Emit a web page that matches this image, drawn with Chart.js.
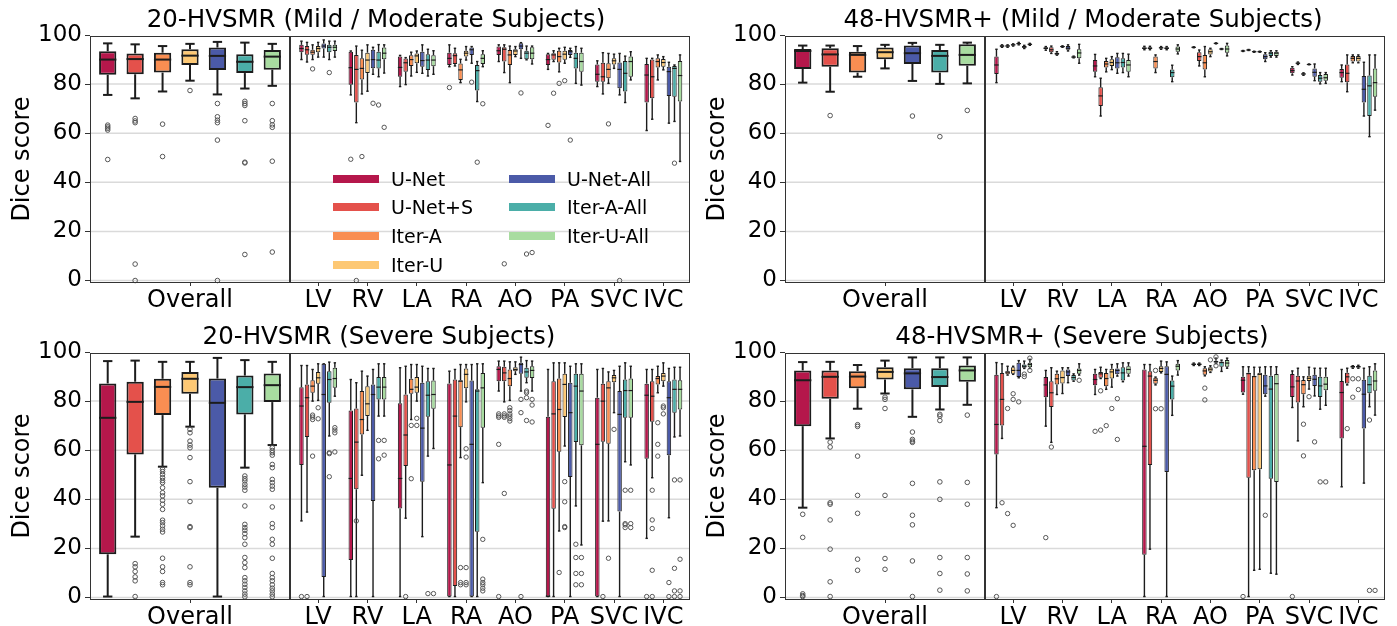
<!DOCTYPE html>
<html><head><meta charset="utf-8">
<script src="https://cdn.jsdelivr.net/npm/chart.js@4.4.1/dist/chart.umd.min.js"></script>
<style>
html,body{margin:0;padding:0;background:#fff;}
#wrap{position:relative;width:1397px;height:626px;overflow:hidden;font-family:'DejaVu Sans',sans-serif;}
canvas{position:absolute;}
.title{position:absolute;width:700px;text-align:center;font-size:24.5px;line-height:28px;color:#000;white-space:nowrap;}
.lg{position:absolute;font-size:19px;line-height:24px;color:#000;white-space:nowrap;}
.sw{position:absolute;height:8px;width:46px;}
</style></head><body><div id="wrap"></div>
<script>
// ---------- labels ----------
const categories = ['Overall','LV','RV','LA','RA','AO','PA','SVC','IVC'];
const seriesNames = ['U-Net','U-Net+S','Iter-A','Iter-U','U-Net-All','Iter-A-All','Iter-U-All'];
const seriesColors = ['#b5174b','#e4514b','#f98e52','#fdc874','#4b5aa8','#4baea8','#a8dca0'];
const yTicks = [0,20,40,60,80,100];
const panelTitles = ['20-HVSMR (Mild / Moderate Subjects)','48-HVSMR+ (Mild / Moderate Subjects)',
                     '20-HVSMR (Severe Subjects)','48-HVSMR+ (Severe Subjects)'];

// ---------- data: [lower whisker, Q1, median, Q3, upper whisker] per category ----------
// Panel A: 20-HVSMR mild / moderate
const mild20_UNet     = [[75.6,83.8,90.0,93.4,96.6],[90,93,94.5,96,97.5],[75.6,79.7,86.7,93.2,93.5],[79,83,86.8,91.2,91.7],[87.1,87.8,90.5,92.8,96],[89.2,91.9,93.6,95.3,96],[86,87.8,90,92.2,92.5],[79,81,84,88,89.5],[61.1,72.5,83.7,88.2,90.5]];
const mild20_UNetS    = [[74.2,84,90.2,92.5,96.2],[89,92,94,95.5,97],[64.3,72.5,86,91.9,95.5],[79.8,85,88.7,90.4,90.8],[87.4,88.2,91.6,92.6,94.6],[84.7,89.2,94.2,95,96],[89.2,89.9,91.9,92.6,93.6],[76,81,83,88.7,92.8],[65.7,74.2,83,90,90.5]];
const mild20_IterA    = [[77,84.7,90,92.8,95.5],[90,92,93,94,96],[76,81.9,86.4,90.5,93.8],[83.3,87.4,90,91.8,93],[80.6,81.7,85.8,88.4,90.1],[80.6,87.8,91.9,93.9,95.5],[85,88.8,91.2,93.6,94.6],[80.3,82.4,86,88.5,92.5],[81.7,86.8,89.2,90.5,91.9]];
const mild20_IterU    = [[81.4,87.8,91.6,94.2,96.4],[91,93,94.5,95.5,97],[77.1,84.5,89.8,92.8,96],[84.8,88.5,91.5,92.5,93.5],[89.8,91.2,92.6,93.6,95.3],[91.2,91.9,93.5,94.2,95.3],[88.5,89.9,92.2,93.6,95],[86.4,88,89.5,90.5,92.2],[85.8,87.1,88.8,90.2,91.2]];
const mild20_UNetAll  = [[75.8,85.8,91.5,94.9,97.2],[91,94.5,95.5,96.5,98],[84,86.5,90,94,95],[84.4,87.1,89.6,93.2,96],[88.5,91.9,94,94.9,95.3],[90.5,94.2,95.5,96.6,96.9],[90.9,91.9,93.2,93.9,94.6],[75.6,78.3,86,88.8,92.5],[64.1,75.2,85.1,87.1,88.9]];
const mild20_IterAAll = [[78.2,84.5,89.1,92.2,96.9],[90,93,95,96,97.5],[83,86.4,89.8,93.2,96.1],[83.3,85.8,89.8,92.2,94.2],[72.9,77.4,85.5,87.8,89.2],[89.9,90.1,92.6,93.6,95.5],[80.3,86.4,90.5,92.8,95.3],[72.5,77,84.4,89.4,91.4],[64.8,74.9,86.4,87.4,87.8]];
const mild20_IterUAll = [[79.3,85.9,91.2,93.9,96.4],[91,93.5,95,96,97.5],[84.5,90.1,92.6,94.9,96],[84,87.3,89.8,91.8,93.6],[87.1,88.2,90.5,92.2,93.6],[88.2,90.1,92.6,95,95.5],[79.6,85,89.2,92.8,94.6],[81.7,83,89.2,91.2,93.2],[48.5,72.9,83.5,89.4,91.9]];
const mild20_UNet_out     = [[63.3,62.6,62.0,61.3,49.3],[],[49.4],[],[78.6],[],[63.2],[],[]];
const mild20_UNetS_out    = [[66,65,64.3,6.7,0],[],[0],[],[],[6.8],[76.3],[],[]];
const mild20_IterA_out    = [[63.7,50.5],[86.2],[50.5],[],[],[],[80.3],[63.8],[]];
const mild20_IterU_out    = [[77.4],[],[],[],[],[],[81.4],[],[]];
const mild20_UNetAll_out  = [[72.1,66.7,65.3,64.3,57.2,0],[],[72.2],[],[80.8],[76.4],[57.2],[0],[]];
const mild20_IterAAll_out = [[73,72.1,71.3,65.1,48.2,47.9,10.6],[84.7],[71.5],[],[48.2],[10.8],[],[],[47.8]];
const mild20_IterUAll_out = [[72.1,65.1,63.4,62.4,48.6,11.6],[],[62.4],[],[72],[11.4],[],[],[]];

// Panel B: 48-HVSMR+ mild / moderate
const mild48_UNet     = [[80.6,86.2,93.5,94.3,95.7],[80.6,84.1,87.8,91.2,94.2],[93.8,94.2,94.6,95,95.3],[83,85,87.4,89.8,92.1],[94,94.3,94.6,95,95.4],[94.8,94.9,95,95.1,95.2],[93.3,93.4,93.5,93.6,93.7],[83.7,84.4,85.5,86.7,87.1],[81,82.6,84.7,86.2,87.8]];
const mild48_UNetS    = [[76.9,87.1,92.1,94.6,95.7],[95,95.2,95.5,95.8,96],[92.5,93,94,95,95.5],[67,71.1,75.2,78.7,82.4],[94,94.3,94.6,95,95.4],[87.4,89.4,91.2,93,93.9],[93.7,93.8,93.9,94,94.1],[88,88.3,88.5,88.8,89],[76.9,80.8,84.4,88,91.9]];
const mild48_IterA    = [[83,84.7,91.9,93.2,95.5],[95,95.3,95.5,95.8,96],[91.8,92,92.4,92.8,93.2],[85,86.8,88.2,89.4,90.5],[84.7,86.4,89.2,91.2,91.9],[83,86,88.7,91.9,95.3],[93,93.1,93.2,93.3,93.4],[83.6,83.9,84.1,84.4,84.6],[88.7,89.2,90.5,91.5,91.9]];
const mild48_IterU    = [[86.4,90.1,93,94.9,96],[95.5,95.7,96,96.2,96.4],[95,95.1,95.3,95.5,95.6],[85.9,87.4,88.8,90.1,91.2],[94.2,94.5,94.8,95,95.3],[91.2,92.1,93.2,94.2,94.6],[93,93.1,93.2,93.3,93.4],[87.9,88,88,88.1,88.2],[88.7,89.2,90.5,91.5,91.9]];
const mild48_UNetAll  = [[81.3,88.2,92.6,95.7,96.8],[96,96.2,96.5,96.7,97],[93.5,94,94.6,95.5,96],[84.4,86.4,88.7,90.9,92.5],[94,94.3,94.6,95,95.3],[96.4,96.5,96.6,96.7,96.8],[89.2,90.1,91.2,92.2,92.8],[81.4,83,84.8,86.4,88.2],[67,72.5,77.9,83.3,88.9]];
const mild48_IterAAll = [[80.1,84.7,91.5,93.9,96],[94.5,94.8,95.1,95.5,95.8],[90.7,90.9,91,91.2,91.4],[84.7,86.8,88.8,90.5,92.5],[81,82.8,84.7,86,87.7],[94.1,94.2,94.3,94.4,94.5],[91,91.5,92.6,93.2,93.6],[80.1,81,82.4,83.7,84.7],[58.6,67,79.3,83.5,91.9]];
const mild48_IterUAll = [[80.3,87.5,91.9,96.2,96.9],[95.8,96,96.2,96.4,96.6],[88.5,90.5,92.7,94.2,96.2],[83,85,87.8,89.8,92.2],[92.3,93.2,94.3,95.3,96],[91.5,92.8,94.3,95.7,96.6],[91,91.5,92.6,93.2,93.6],[80.3,81.4,82.6,84.1,84.7],[69.4,74.9,80.6,86.4,91.9]];
const mild48_UNet_out     = [[],[],[],[],[],[],[],[],[]];
const mild48_UNetS_out    = [[67.2],[],[],[],[],[],[],[],[]];
const mild48_IterA_out    = [[],[],[],[],[],[],[],[],[]];
const mild48_IterU_out    = [[],[],[],[],[],[],[],[],[]];
const mild48_UNetAll_out  = [[67],[],[],[],[],[],[],[],[]];
const mild48_IterAAll_out = [[58.6],[],[],[],[],[],[],[],[]];
const mild48_IterUAll_out = [[69.3],[],[],[],[],[],[],[],[]];

// Panel C: 20-HVSMR severe
const sev20_UNet     = [[0.4,17.6,73.2,87.2,96.3],[31.2,54,78,85.7,94.5],[0.4,15.3,48.5,76.2,88.8],[0.4,36.3,48.5,79.1,93.6],[0.4,0.4,54,87.2,92.2],[84.1,88.1,92.9,94.2,96.3],[0.4,0.4,0.5,73.6,92.9],[0.4,0.4,62.4,81.4,92.9],[24.1,56.5,82.4,87.1,92.9]];
const sev20_UNetS    = [[24.8,58.3,79.7,87.9,96.5],[34.8,65.4,81.4,86.8,94.5],[0.4,44.1,63.3,77,87.5],[32.3,53.6,66.2,82.7,94.2],[0.4,4.7,73.9,88.8,92.9],[79.7,88.1,91.5,94,96.3],[0.4,36.2,74.8,88.1,95.6],[31.1,63.5,80,87.1,93.3],[48.8,71.6,82,88.1,92.9]];
const sev20_IterA    = [[53.3,74.3,85.8,89.1,96],[80,83.4,86.1,88.5,92.9],[49.8,66.4,72.5,84.1,92.2],[72.5,83,84.8,89.1,94.9],[57,69.4,88.1,88.5,94.9],[80.3,86.1,89.2,92.9,96],[27.1,59.4,76.6,89.2,95.6],[31.2,62.6,85.4,88.1,91.9],[83.4,86.8,89.2,90.2,94.2]];
const sev20_IterU    = [[69.6,83,89.1,91.9,96],[80.3,87.1,89.5,91.9,95.2],[68.1,73.9,78.9,86.1,90.2],[80,83.4,85.7,89.8,94.9],[79.7,85.2,90.9,93.3,94.9],[90.9,92.2,92.9,93.8,96],[61.7,73.5,86.8,91.1,95.6],[75.3,87.7,89.5,90.6,92.5],[86.1,88.1,90.2,91.5,95.6]];
const sev20_UNetAll  = [[0.4,44.7,79.3,89.2,97.6],[0.4,8.4,82.7,95.2,95.2],[0.4,39.3,82.7,86.8,92.9],[24.8,47.2,69,87.5,94.2],[0.4,0.4,62.4,88.4,94.9],[84.1,91.1,94.9,95.6,97.9],[0.4,49.1,75.3,87.5,94.2],[0.4,35,74.6,84.1,94.2],[32.5,58,81.4,88.1,93.3]];
const sev20_IterAAll = [[52.9,74.6,85.7,90.4,96.7],[65.8,79.3,88.8,92.2,95.9],[73.9,80.7,85.7,89.8,95.2],[57.6,73.6,82.4,88.1,93.3],[0.4,26.8,84.1,84.8,95.2],[87.5,89.5,91.9,93.6,96.5],[37.3,63.3,86.1,91.1,95.2],[55.3,73.2,84.3,88.8,95.6],[65.4,75.3,84.8,88.8,93.8]];
const sev20_IterUAll = [[62.1,79.6,86.5,91.3,96],[82,85.4,89.2,93.6,95.6],[73.9,80.7,85.7,89.8,95.2],[60.7,76.9,82.7,88.4,93.3],[46.8,69.2,85.4,91.5,95.2],[84.1,89.4,92.5,94.2,96.3],[21.4,62,84.1,91.1,95.2],[54,73.2,84.3,89.2,94.2],[65.8,76.6,84.8,88.5,93.8]];
const sev20_UNet_out     = [[],[0.4],[],[],[],[74.8,74,73.4,62.4,0.4],[],[],[0.4]];
const sev20_UNetS_out    = [[13.8,12.5,10.6,8.4,6.8,0.4],[0.4],[31.2],[0.4],[],[74.8,74,73.4,42.4],[],[0.4],[43.7,31.6,28.1,11.1,0.4]];
const sev20_IterA_out    = [[52.2,51.3,50.2,48.8,47.7,46.8,44.7,42.7,41.4,39.6,38,35.9,31.5,30.5,29.2,27.8,26.7,16,12.5,10.6,6.1,5.2],[74.3,73.5,72.5,57.6],[],[70.1,48.4],[12.2,6.1,5.2],[77.3,76.2,74.8,73.9,72.9,71.9],[10.2],[16],[71.2,62.4,57.6]];
const sev20_IterU_out    = [[68.5,67.1,63.7,62.1,61,57,47.2,39.1,28.9,28.5,12.5,6.1,5.2],[77.3,72.8],[],[73,70.1],[60.6,57.2,12.2,6.1,5.2],[],[47.2,39,28.9,28.5],[68.5],[78,77.3,74.8]];
const sev20_UNetAll_out  = [[],[],[],[],[],[80.7,75.3,0.4],[],[],[6.1,0.4]];
const sev20_IterAAll_out = [[49.5,48.4,47.5,46.1,45,43.7,37.3,29.8,28.5,27.4,26,24.4,21.7,16.3,14.2,12.2,8.1,6.8,5.4,4.1,2.7,1.4,0.3],[59,58.6,49.2],[64,56.5],[1.6],[],[84.1,83.4,81.4,72.1],[21.7,16.3,9.8,5.2],[43.7,30.1,29.6,28.5],[47.9,11.9,2.7,0.4]];
const sev20_IterUAll_out = [[61,59.9,59,58,54.2,52.9,48.1,46.8,45.4,44.1,36.9,30.1,28.5,23.7,21.7,16,9.8,8.1,6.8,5.2,3.8,2.7,1.4,0.3],[69.2,68.2,67.1,59.3],[64,58],[1.6],[23.7,7.5,6.1,5.2,3.8,2.7],[80.7,78.4,71.5],[16.3,9.8,5.2],[43.7,30.1,28.5],[47.9,15.6,2.7,0.4]];

// Panel D: 48-HVSMR+ severe
const sev48_UNet     = [[36.6,69.8,88.5,92.5,95.9],[36.6,58.3,70.5,90.7,95.7],[69.8,81.6,86.6,89.8,92.5],[82.7,86.5,88.8,91.1,92.9],[0.4,17.4,61.6,92.9,94.9],[94.5,94.7,95,95.3,95.5],[82.8,83.5,88.5,89.9,94],[77.4,81.7,85.8,91,92.3],[45.1,64.8,83.5,88.2,92.9]];
const sev48_UNetS    = [[64.8,81,89.9,92.5,96],[64.8,70.1,80.7,91.5,95.2],[63.2,77.6,83.4,88.1,93.6],[89.2,89.5,91.1,91.9,93.8],[19.7,54,90.2,92.2,94.9],[94.5,94.7,95,95.3,95.5],[0.4,48.8,91.2,91.6,94],[63.8,79.4,88.2,90.3,93.4],[86.6,87.2,89.9,91.6,93.4]];
const sev48_IterA    = [[76.9,85.2,90,92.2,94.7],[90.6,90.9,91.8,92.2,94.2],[82.7,86.8,89.1,91.1,92.2],[84.8,86.1,89.2,91.5,92.9],[86.6,87.1,88.5,89.5,89.8],[90.3,90.7,92.3,93.4,94],[11.1,51.8,90,90.3,93.8],[77.7,82.8,86.7,88.6,89.9],[93.4,93.7,94,94.4,94.4]];
const sev48_IterU    = [[83.1,88.8,91.9,93.8,96.5],[90.9,91.1,92.5,93.8,94.2],[83.1,87.2,89.6,92.5,93.6],[85.7,89.2,91.9,93.2,94.9],[91.5,91.9,93.3,94.2,96.3],[91.7,92.1,93,93.8,94.4],[11.5,52.2,90.9,91.6,93.8],[84.9,88.2,89.3,90.3,93.8],[93.4,93.7,94,94.4,94.6]];
const sev48_UNetAll  = [[73.6,84.8,91.3,93.4,97.8],[89.5,89.8,92.5,95.6,96.5],[87.5,90.2,91.9,92.9,93.6],[90.2,90.9,92.5,93.3,95.2],[0.4,51.1,90.9,94.2,96],[95.3,95.7,96,96.4,97.5],[82,82.8,86.2,90.7,94],[82.1,86.2,88.9,90.7,93.4],[46.6,68.8,82.8,88.7,93.4]];
const sev48_IterAAll = [[76.6,85.8,89.8,93.4,97.8],[93.3,93.6,94.2,94.9,96.3],[88.1,88.4,89.6,90.6,91.1],[87.9,88.4,91.5,93.8,95.6],[74.2,80.7,86.1,88.4,90.2],[92.1,94,95.7,96.1,96.7],[9.9,48.4,84.9,90.3,94],[76.7,81.7,86.2,89.9,93.4],[77.7,83.2,86.7,90.3,94]];
const sev48_IterUAll = [[78.5,87.9,92.5,94.5,97.8],[93.3,93.8,94.9,95.6,97],[90.6,91.1,92.5,93.3,95.2],[90.2,91.1,92.9,94.2,95.6],[90.6,92.5,94.2,95.2,96.5],[93.4,94,95.5,96.7,97.5],[9.5,47.1,87.1,91,94],[78.3,84.4,86.9,89.9,93.4],[74.3,84.2,88.2,92.5,95.2]];
const sev48_UNet_out     = [[33.9,24.5,1.5,0.8,0.4],[0.4],[24.4],[67.7],[],[],[0.4],[0.4],[]];
const sev48_UNetS_out    = [[63.3,61.3,38.6,38,31.6,19.7,6.4,0.4],[38.6],[61.3],[84.2,68.2],[],[],[],[],[68.8]];
const sev48_IterA_out    = [[70.4,69.7,57.6,41.6,34.3,15.6,11.1],[77,34.2],[],[70],[92.5,76.9],[85.3,80.5],[],[70.6,57.7],[89.1,81.6]];
const sev48_IterU_out    = [[81.6,80.7,77,41.6,15.9,11.5],[83,80.7,29.4],[],[77],[76.9],[96.8],[],[81.8],[89.1,84.7]];
const sev48_UNetAll_out  = [[67.4,64.4,63.7,63.2,46.5,33.5,29.6,14.9,0.4],[79.7],[],[81,64.4],[],[98,94.4],[33.5],[63.4],[]];
const sev48_IterAAll_out = [[74.6,73.9,72.1,47.1,40,16.3,9.8,3],[91,90],[],[],[],[],[],[47.1],[72.3,2.9]];
const sev48_IterUAll_out = [[74.3,46.9,38,16.3,9.6,2.7],[97.5,92.5],[88.5],[],[],[],[],[47.1],[2.9]];

const panelStats = [
  [mild20_UNet,mild20_UNetS,mild20_IterA,mild20_IterU,mild20_UNetAll,mild20_IterAAll,mild20_IterUAll],
  [mild48_UNet,mild48_UNetS,mild48_IterA,mild48_IterU,mild48_UNetAll,mild48_IterAAll,mild48_IterUAll],
  [sev20_UNet,sev20_UNetS,sev20_IterA,sev20_IterU,sev20_UNetAll,sev20_IterAAll,sev20_IterUAll],
  [sev48_UNet,sev48_UNetS,sev48_IterA,sev48_IterU,sev48_UNetAll,sev48_IterAAll,sev48_IterUAll]];
const panelOutliers = [
  [mild20_UNet_out,mild20_UNetS_out,mild20_IterA_out,mild20_IterU_out,mild20_UNetAll_out,mild20_IterAAll_out,mild20_IterUAll_out],
  [mild48_UNet_out,mild48_UNetS_out,mild48_IterA_out,mild48_IterU_out,mild48_UNetAll_out,mild48_IterAAll_out,mild48_IterUAll_out],
  [sev20_UNet_out,sev20_UNetS_out,sev20_IterA_out,sev20_IterU_out,sev20_UNetAll_out,sev20_IterAAll_out,sev20_IterUAll_out],
  [sev48_UNet_out,sev48_UNetS_out,sev48_IterA_out,sev48_IterU_out,sev48_UNetAll_out,sev48_IterAAll_out,sev48_IterUAll_out]];

// ---------- layout ----------
const FONT = "'DejaVu Sans', sans-serif";
Chart.defaults.font.family = FONT;
Chart.defaults.color = '#000';
const layout = [ {axisLeft:90, frameTop:36, tx:376, ty:19},
                 {axisLeft:785, frameTop:36, tx:1083, ty:19},
                 {axisLeft:90, frameTop:353, tx:379, ty:336},
                 {axisLeft:785, frameTop:353, tx:1082, ty:336} ];
const PADT = 16, PLOT_H = 246, XAX_H = 44, YAX_W = 90, OVERALL_W = 200, STRUCT_W = 400;
const Y_MIN = -0.6, Y_MAX = 99.6;

const boxPlot = {
  id: 'boxPlot',
  beforeDatasetsDraw(chart) {
    const o = chart.options.plugins.boxPlot; if (!o) return;
    const ctx = chart.ctx, a = chart.chartArea, y = chart.scales.y;
    const L = a.left - o.padL, R = a.right + o.padR;
    ctx.save(); ctx.strokeStyle = '#dadada'; ctx.lineWidth = 1.5;
    yTicks.forEach(v => {
      if (v > y.max || v < y.min) return;
      const py = y.getPixelForValue(v);
      ctx.beginPath(); ctx.moveTo(L, py); ctx.lineTo(R, py); ctx.stroke();
    });
    ctx.restore();
  },
  afterDatasetsDraw(chart) {
    const o = chart.options.plugins.boxPlot; if (!o) return;
    const ctx = chart.ctx, a = chart.chartArea, y = chart.scales.y;
    ctx.save();
    const line = (x1,y1,x2,y2) => { ctx.beginPath(); ctx.moveTo(x1,y1); ctx.lineTo(x2,y2); ctx.stroke(); };
    chart.data.datasets.forEach((ds, di) => {
      const meta = chart.getDatasetMeta(di);
      meta.data.forEach((bar, i) => {
        const st = ds.stats[i]; const x = bar.x, w = bar.width;
        const p = st.map(v => y.getPixelForValue(v));
        ctx.strokeStyle = '#1c1c1c'; ctx.lineWidth = o.lw; ctx.lineCap = 'butt';
        line(x, p[1], x, p[0]); line(x, p[3], x, p[4]);
        line(x - w*0.27, p[0], x + w*0.27, p[0]);
        line(x - w*0.27, p[4], x + w*0.27, p[4]);
        ctx.lineWidth = o.mw;
        line(x - w/2, p[2], x + w/2, p[2]);
        ctx.strokeStyle = '#555'; ctx.lineWidth = 1;
        ds.fliers[i].forEach(v => {
          ctx.beginPath(); ctx.arc(x, y.getPixelForValue(v), o.r, 0, Math.PI*2); ctx.stroke();
        });
      });
    });
    const L = a.left - o.padL, R = a.right + o.padR;
    ctx.strokeStyle = '#333'; ctx.lineWidth = 1;
    ctx.strokeRect(Math.round(L)+0.5, Math.round(a.top)+0.5, Math.round(R-L)-1, Math.round(a.bottom-a.top));
    ctx.restore();
  }
};
Chart.register(boxPlot);

const wrap = document.getElementById('wrap');
function addCanvas(left, top, w, h) {
  const c = document.createElement('canvas');
  c.width = w; c.height = h; c.style.left = left + 'px'; c.style.top = top + 'px';
  c.style.width = w + 'px'; c.style.height = h + 'px';
  wrap.appendChild(c); return c;
}
function makeDatasets(stats, outs, overall) {
  return seriesNames.map((name, s) => {
    const st = overall ? [stats[s][0]] : stats[s].slice(1);
    const ot = overall ? [outs[s][0]] : outs[s].slice(1);
    return {
      label: name, data: st.map(v => [v[1], v[3]]), stats: st, fliers: ot,
      backgroundColor: seriesColors[s], borderColor: '#1c1c1c',
      borderWidth: overall ? 2 : 1, borderSkipped: false,
      categoryPercentage: overall ? 0.96 : 0.79,
      barPercentage: overall ? 0.63 : 0.8
    };
  });
}
function xScale() {
  return { type: 'category', offset: true,
    grid: { display: true, drawOnChartArea: false, drawTicks: true, tickLength: 4, offset: false, color: '#333' },
    border: { display: false },
    ticks: { font: { size: 24, family: FONT }, color: '#000', padding: 0, maxRotation: 0, autoSkip: false },
    afterFit: s => { s.height = XAX_H; s.paddingLeft = 0; s.paddingRight = 0; } };
}
function makePanel(pi) {
  const lay = layout[pi];
  const top = lay.frameTop - PADT, h = PADT + PLOT_H + XAX_H;
  // Overall subplot
  const c1 = addCanvas(lay.axisLeft - YAX_W, top, YAX_W + OVERALL_W, h);
  new Chart(c1, {
    type: 'bar',
    data: { labels: [categories[0]], datasets: makeDatasets(panelStats[pi], panelOutliers[pi], true) },
    options: {
      responsive: false, animation: false, devicePixelRatio: 1,
      layout: { padding: { top: PADT, left: 0, right: 0, bottom: 0 } },
      plugins: { legend: { display: false }, tooltip: { enabled: false },
                 boxPlot: { padL: 0, padR: 0, lw: 2, mw: 2, r: 2.3 } },
      scales: {
        x: xScale(),
        y: { min: Y_MIN, max: Y_MAX,
          afterBuildTicks: s => { s.ticks = yTicks.map(v => ({ value: v })); },
          grid: { display: true, drawOnChartArea: false, drawTicks: true, tickLength: 5, color: '#333' },
          border: { display: false },
          ticks: { font: { size: 23, family: FONT }, color: '#000', padding: 3 },
          title: { display: true, text: 'Dice score', font: { size: 24, family: FONT }, color: '#000', padding: { top: 8, bottom: 0 } },
          afterFit: s => { s.width = YAX_W; s.paddingTop = 0; s.paddingBottom = 0; } }
      }
    }
  });
  // Structures subplot
  const c2 = addCanvas(lay.axisLeft + OVERALL_W, top, STRUCT_W, h);
  new Chart(c2, {
    type: 'bar',
    data: { labels: categories.slice(1), datasets: makeDatasets(panelStats[pi], panelOutliers[pi], false) },
    options: {
      responsive: false, animation: false, devicePixelRatio: 1,
      layout: { padding: { top: PADT, left: 3.5, right: 2, bottom: 0 } },
      plugins: { legend: { display: false }, tooltip: { enabled: false },
                 boxPlot: { padL: 3.5, padR: 2, lw: 1.4, mw: 1.2, r: 2.2 } },
      scales: {
        x: xScale(),
        y: { display: false, min: Y_MIN, max: Y_MAX }
      }
    }
  });
  // Title
  const t = document.createElement('div');
  t.className = 'title'; t.textContent = panelTitles[pi];
  t.style.left = (lay.tx - 350) + 'px'; t.style.top = (lay.ty - 14) + 'px';
  wrap.appendChild(t);
}
[0,1,2,3].forEach(makePanel);

// Legend (inside the first panel's structures subplot)
const legendPos = [ {sx:333, tx:391, y:179}, {sx:333, tx:391, y:207}, {sx:333, tx:391, y:236}, {sx:333, tx:391, y:265},
                    {sx:509, tx:567, y:179}, {sx:509, tx:567, y:207}, {sx:509, tx:567, y:236} ];
seriesNames.forEach((name, s) => {
  const p = legendPos[s];
  const sw = document.createElement('div'); sw.className = 'sw';
  sw.style.left = p.sx + 'px'; sw.style.top = (p.y - 4) + 'px'; sw.style.background = seriesColors[s];
  const tx = document.createElement('div'); tx.className = 'lg'; tx.textContent = name;
  tx.style.left = p.tx + 'px'; tx.style.top = (p.y - 12) + 'px';
  wrap.appendChild(sw); wrap.appendChild(tx);
});
</script></body></html>
